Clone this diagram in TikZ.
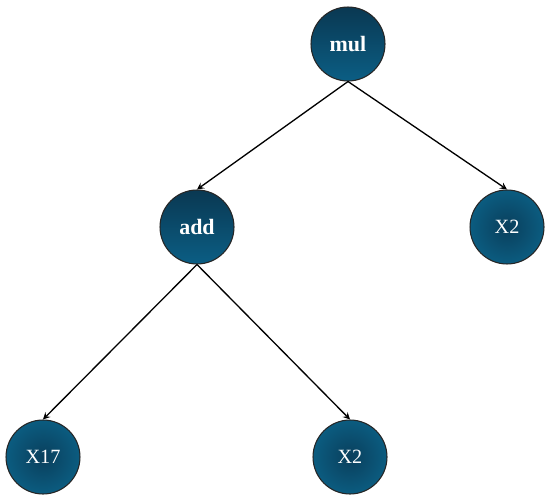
\documentclass[tikz,border=0pt]{standalone}
\usepackage{fontspec}
\setmainfont{Liberation Serif}
\usetikzlibrary{arrows}

\definecolor{optop}{HTML}{0A3852}
\definecolor{opbot}{HTML}{0B5E84}
\definecolor{leafin}{HTML}{0A3F5C}
\definecolor{leafout}{HTML}{0B5C80}

\tikzset{
  opnode/.style={circle, draw=black!85, line width=0.6pt, minimum size=1.48cm,
    top color=optop, bottom color=opbot, text=white,
    font=\fontsize{12.5}{14}\selectfont\bfseries},
  leafnode/.style={circle, draw=black!85, line width=0.6pt, minimum size=1.48cm,
    inner color=leafin, outer color=leafout, text=white,
    font=\fontsize{11.5}{13}\selectfont}
}

\begin{document}
\begin{tikzpicture}[x=0.02cm, y=-0.02cm, >=stealth]
  \useasboundingbox (0,0) rectangle (550,500);
  \node[opnode] (mul) at (348,44) {mul};
  \node[opnode] (add) at (197,227) {add};
  \node[leafnode] (x2a) at (507,227) {X2};
  \node[leafnode] (x17) at (43,457) {X17};
  \node[leafnode] (x2b) at (350,457) {X2};
  \path[->, line width=0.75pt]
  (mul.south) edge (add.north)
  (mul.south) edge (x2a.north);
  \path[->, line width=0.75pt]
  (add.south) edge (x17.north)
  (add.south) edge (x2b.north);
\end{tikzpicture}
\end{document}
